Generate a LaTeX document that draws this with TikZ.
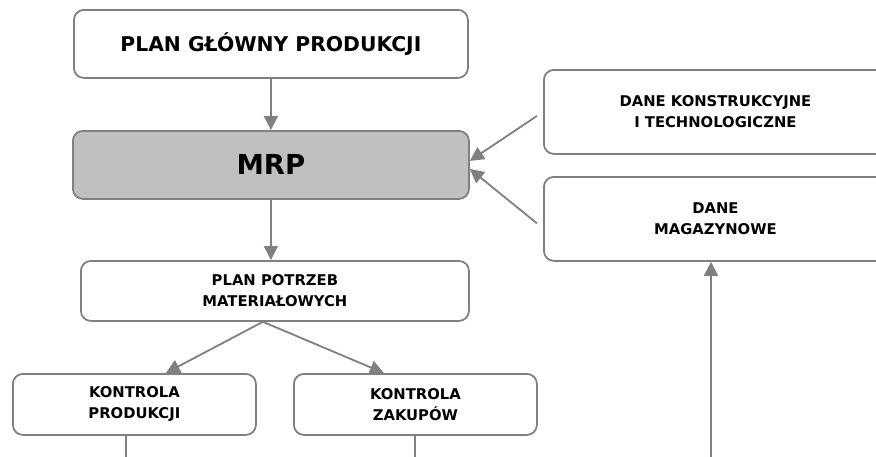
\documentclass[tikz,border=0pt]{standalone}
\usepackage{fontspec}
\setmainfont{DejaVu Sans}
\usetikzlibrary{arrows.meta,calc}
\definecolor{lg}{HTML}{808080}
\definecolor{boxgray}{HTML}{C0C0C0}
\tikzset{
  box/.style={draw=lg, line width=1.8pt, rounded corners=10pt, fill=white, anchor=north west,
    inner sep=0pt, align=center, font=\bfseries\fontsize{14.8}{21}\selectfont},
  arr/.style={draw=lg, line width=1.8pt, -{Triangle[length=14pt,width=14pt]}},
  ln/.style={draw=lg, line width=1.8pt},
}
\begin{document}
\begin{tikzpicture}[x=1pt,y=1pt]
\clip (0,0) rectangle (876,-456);
\fill[white] (0,0) rectangle (876,-456);
\node[box, minimum width=394pt, minimum height=68pt, font=\bfseries\fontsize{20.3}{24}\selectfont] (pgp) at (73,-9) {PLAN GŁÓWNY PRODUKCJI};
\node[box, fill=boxgray, minimum width=396pt, minimum height=68pt, font=\bfseries\fontsize{27.5}{30}\selectfont] (mrp) at (72,-130) {MRP};
\node[box, minimum width=343pt, minimum height=84pt] (dkt) at (543,-69) {DANE KONSTRUKCYJNE\\I TECHNOLOGICZNE};
\node[box, minimum width=343pt, minimum height=84pt] (dm) at (543,-176) {DANE\\MAGAZYNOWE};
\node[box, minimum width=388pt, minimum height=60pt] (ppm) at (80,-260) {PLAN POTRZEB\\MATERIAŁOWYCH};
\node[box, minimum width=243pt, minimum height=61pt] (kp) at (12,-373) {KONTROLA\\PRODUKCJI};
\node[box, minimum width=243pt, minimum height=61pt] (kz) at (293,-373) {KONTROLA\\ZAKUPÓW};
\draw[arr] (pgp.south) -- (mrp.north);
\draw[arr] (mrp.south) -- (mrp.south |- ppm.north);
\draw[arr] ($(dkt.west)+(-6,-4)$) -- ($(mrp.east)+(0,4)$);
\draw[arr] ($(dm.west)+(-6,-4.5)$) -- ($(mrp.east)+(0,-4)$);
\draw[arr] ($(ppm.south)+(-12,0)$) -- ($(kp.north)+(31.5,0)$);
\draw[arr] ($(ppm.south)+(-12,0)$) -- ($(kz.north)+(-31.5,0)$);
\coordinate (b1) at (125.7,-470);
\coordinate (b2) at (415,-470);
\coordinate (b3) at (711,-470);
\draw[ln] (kp.south -| b1) -- (b1);
\draw[ln] (kz.south -| b2) -- (b2);
\draw[arr] (b3) -- (b3 |- dm.south);
\end{tikzpicture}
\end{document}
